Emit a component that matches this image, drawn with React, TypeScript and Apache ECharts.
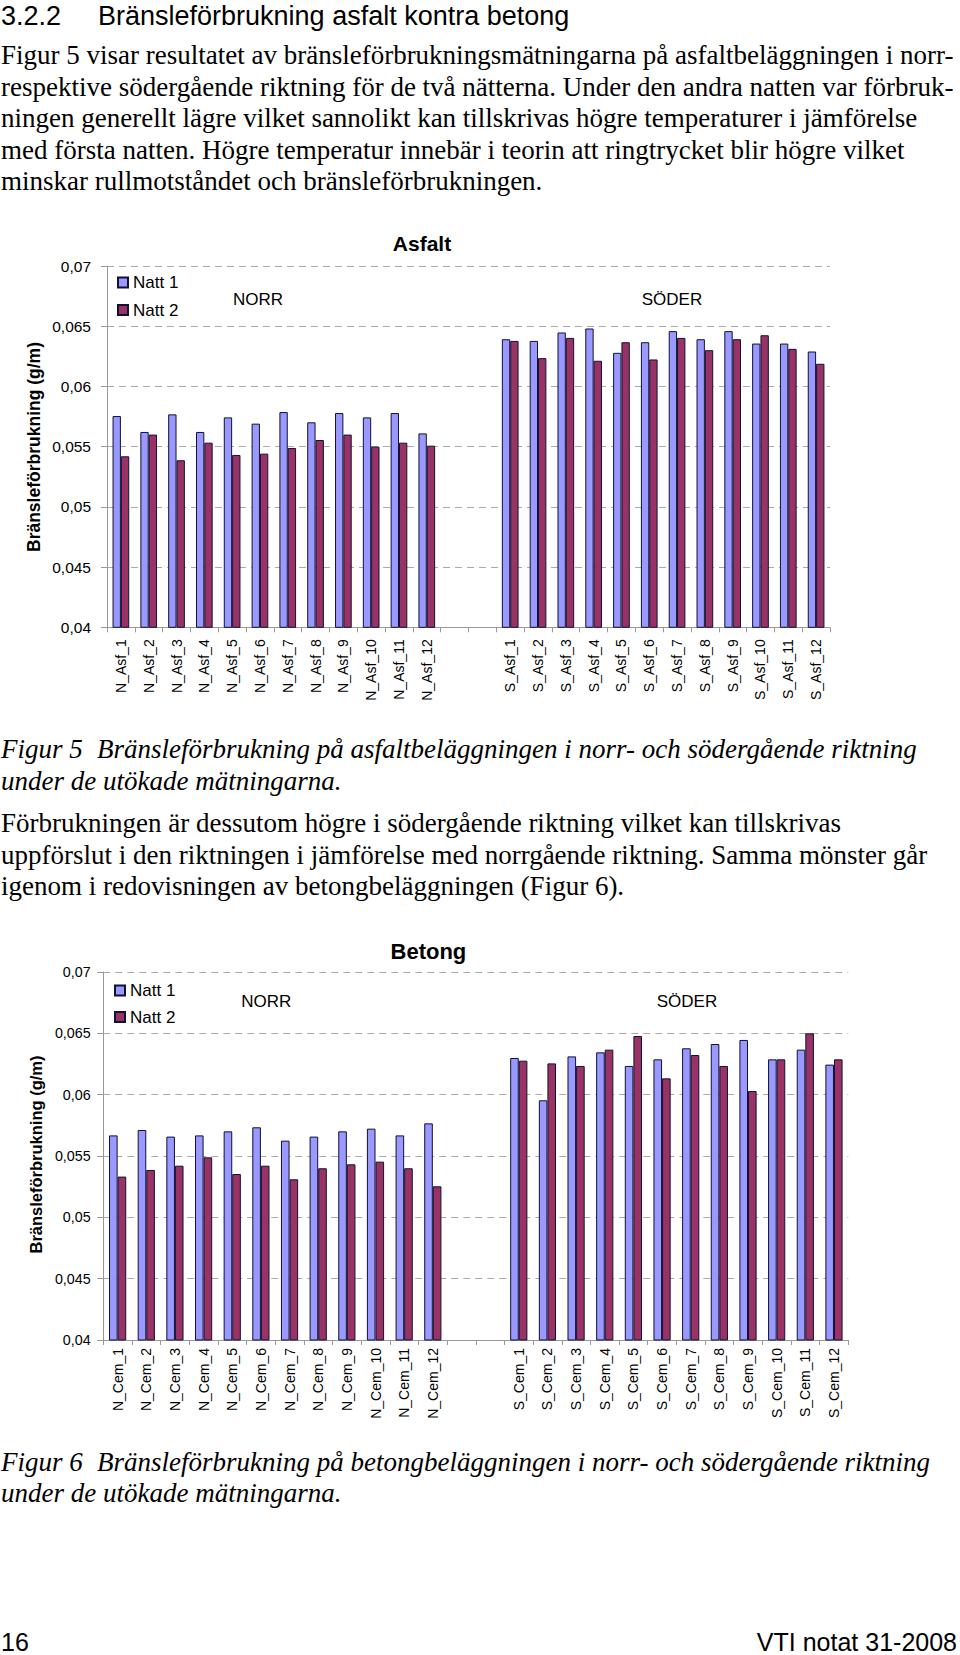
import React, { useEffect, useRef } from 'react';
import * as echarts from 'echarts';

// ---------- data ----------
const nAsfCategories = ['N_Asf_1', 'N_Asf_2', 'N_Asf_3', 'N_Asf_4', 'N_Asf_5', 'N_Asf_6', 'N_Asf_7', 'N_Asf_8', 'N_Asf_9', 'N_Asf_10', 'N_Asf_11', 'N_Asf_12'];
const sAsfCategories = ['S_Asf_1', 'S_Asf_2', 'S_Asf_3', 'S_Asf_4', 'S_Asf_5', 'S_Asf_6', 'S_Asf_7', 'S_Asf_8', 'S_Asf_9', 'S_Asf_10', 'S_Asf_11', 'S_Asf_12'];
const nCemCategories = ['N_Cem_1', 'N_Cem_2', 'N_Cem_3', 'N_Cem_4', 'N_Cem_5', 'N_Cem_6', 'N_Cem_7', 'N_Cem_8', 'N_Cem_9', 'N_Cem_10', 'N_Cem_11', 'N_Cem_12'];
const sCemCategories = ['S_Cem_1', 'S_Cem_2', 'S_Cem_3', 'S_Cem_4', 'S_Cem_5', 'S_Cem_6', 'S_Cem_7', 'S_Cem_8', 'S_Cem_9', 'S_Cem_10', 'S_Cem_11', 'S_Cem_12'];
const gapCategories = [' ', '  '];

const asfNorrNatt1 = [0.05754, 0.05622, 0.05768, 0.05622, 0.05743, 0.05691, 0.05787, 0.05702, 0.05779, 0.05743, 0.05779, 0.0561];
const asfNorrNatt2 = [0.0542, 0.056, 0.05387, 0.05533, 0.05431, 0.05442, 0.05489, 0.05555, 0.056, 0.055, 0.05533, 0.05508];
const asfSoderNatt1 = [0.06392, 0.06378, 0.06448, 0.06481, 0.06279, 0.06367, 0.06459, 0.06392, 0.06459, 0.06356, 0.06356, 0.0629];
const asfSoderNatt2 = [0.06378, 0.06235, 0.06403, 0.06213, 0.06367, 0.06224, 0.06403, 0.06301, 0.06392, 0.06425, 0.06312, 0.06188];

const cemNorrNatt1 = [0.05668, 0.05712, 0.05658, 0.05668, 0.05701, 0.05734, 0.05625, 0.05658, 0.05701, 0.05723, 0.05668, 0.05766];
const cemNorrNatt2 = [0.05332, 0.05386, 0.05421, 0.05489, 0.05353, 0.05421, 0.0531, 0.054, 0.05432, 0.05454, 0.054, 0.05253];
const cemSoderNatt1 = [0.06299, 0.05954, 0.06312, 0.06345, 0.06234, 0.06288, 0.06378, 0.06413, 0.06446, 0.06288, 0.06367, 0.06245];
const cemSoderNatt2 = [0.06277, 0.06255, 0.06234, 0.06367, 0.06478, 0.06133, 0.06323, 0.06234, 0.0603, 0.06288, 0.065, 0.06288];

const yMin = 0.04;
const yMax = 0.07;
const yInterval = 0.005;

const seriesNames = ['Natt 1', 'Natt 2'];

// ---------- page text ----------
const headingNumber = '3.2.2';
const headingTitle = 'Bränsleförbrukning asfalt kontra betong';
const paragraph1 = [
  'Figur 5 visar resultatet av bränsleförbrukningsmätningarna på asfaltbeläggningen i norr-',
  'respektive södergående riktning för de två nätterna. Under den andra natten var förbruk-',
  'ningen generellt lägre vilket sannolikt kan tillskrivas högre temperaturer i jämförelse',
  'med första natten. Högre temperatur innebär i teorin att ringtrycket blir högre vilket',
  'minskar rullmotståndet och bränsleförbrukningen.',
];
const caption5 = ['Figur 5', 'Bränsleförbrukning på asfaltbeläggningen i norr- och södergående riktning', 'under de utökade mätningarna.'];
const paragraph2 = [
  'Förbrukningen är dessutom högre i södergående riktning vilket kan tillskrivas',
  'uppförslut i den riktningen i jämförelse med norrgående riktning. Samma mönster går',
  'igenom i redovisningen av betongbeläggningen (Figur 6).',
];
const caption6 = ['Figur 6', 'Bränsleförbrukning på betongbeläggningen i norr- och södergående riktning', 'under de utökade mätningarna.'];
const chart1Title = 'Asfalt';
const chart2Title = 'Betong';
const yAxisTitle = 'Bränsleförbrukning (g/m)';
const norrLabel = 'NORR';
const soderLabel = 'SÖDER';
const footerLeft = '16';
const footerRight = 'VTI notat 31-2008';

const SANS = '"Liberation Sans", Arial, sans-serif';
const SERIF = '"Liberation Serif", "Times New Roman", serif';
const COLOR1 = '#9999FF';
const COLOR2 = '#993366';

function txt(x: number, y: number, text: string, opts: any = {}) {
  return {
    type: 'text',
    x,
    y,
    rotation: opts.rotation || 0,
    silent: true,
    style: {
      text,
      fill: '#000',
      fontSize: opts.fontSize || 27,
      fontFamily: opts.fontFamily || SERIF,
      fontWeight: opts.fontWeight || 'normal',
      fontStyle: opts.fontStyle || 'normal',
      align: opts.align || 'left',
      verticalAlign: 'middle',
      textAlign: opts.align || 'left',
      textVerticalAlign: 'middle',
    },
  };
}

function yLabel(v: number) {
  return String(Number(v.toFixed(3))).replace('.', ',');
}

export default function App() {
  const ref = useRef<HTMLDivElement>(null);

  useEffect(() => {
    if (!ref.current) return;
    const chart = echarts.init(ref.current, null, { renderer: 'svg' });

    const cats1 = [...nAsfCategories, ...gapCategories, ...sAsfCategories];
    const cats2 = [...nCemCategories, ...gapCategories, ...sCemCategories];
    const gapData = gapCategories.map(() => '-');
    const d1a = [...asfNorrNatt1, ...gapData, ...asfSoderNatt1];
    const d1b = [...asfNorrNatt2, ...gapData, ...asfSoderNatt2];
    const d2a = [...cemNorrNatt1, ...gapData, ...cemSoderNatt1];
    const d2b = [...cemNorrNatt2, ...gapData, ...cemSoderNatt2];

    const xAxis = (gridIndex: number, data: string[], margin: number) => ({
      type: 'category',
      gridIndex,
      data,
      axisLine: { show: true, lineStyle: { color: '#999', width: 1 } },
      axisTick: { show: true, length: 5, lineStyle: { color: '#999' } },
      axisLabel: {
        interval: 0,
        rotate: 90,
        fontSize: 14,
        fontFamily: SANS,
        color: '#000',
        margin,
      },
      splitLine: { show: false },
    });

    const yAxis = (gridIndex: number, fontSize: number, margin: number) => ({
      type: 'value',
      gridIndex,
      min: yMin,
      max: yMax,
      interval: yInterval,
      axisLine: { show: true, lineStyle: { color: '#999', width: 1 } },
      axisTick: { show: true, length: 6, lineStyle: { color: '#999' } },
      splitLine: { show: true, lineStyle: { type: [7, 5], color: '#aaa', width: 1 } },
      axisLabel: {
        formatter: yLabel,
        fontSize,
        fontFamily: SANS,
        color: '#000',
        margin,
      },
    });

    const bar = (name: string, idx: number, data: any[], color: string) => ({
      name,
      type: 'bar',
      xAxisIndex: idx,
      yAxisIndex: idx,
      data,
      barGap: '0%',
      barCategoryGap: '40%',
      itemStyle: { color, borderColor: '#111133', borderWidth: 1 },
    });

    const legend = (left: number, top: number, itemGap: number) => ({
      data: seriesNames,
      orient: 'vertical',
      left,
      top,
      padding: 0,
      itemGap,
      itemWidth: 10,
      itemHeight: 10,
      icon: 'rect',
      selectedMode: false,
      textStyle: { fontSize: 17, fontFamily: SANS, color: '#000' },
    });

    const graphics: any[] = [];
    // heading
    graphics.push(txt(1, 15.5, headingNumber, { fontFamily: SANS, fontSize: 27 }));
    graphics.push(txt(98, 15.5, headingTitle, { fontFamily: SANS, fontSize: 27 }));
    // paragraph 1
    const p1y = [55, 86.5, 118, 149.8, 181.4];
    paragraph1.forEach((l, i) => graphics.push(txt(1, p1y[i], l)));
    // chart 1 texts
    graphics.push(txt(422, 243.5, chart1Title, { fontFamily: SANS, fontWeight: 'bold', fontSize: 21, align: 'center' }));
    graphics.push(txt(258, 299.5, norrLabel, { fontFamily: SANS, fontSize: 17, align: 'center' }));
    graphics.push(txt(672, 299.5, soderLabel, { fontFamily: SANS, fontSize: 17, align: 'center' }));
    graphics.push(txt(34, 447, yAxisTitle, { fontFamily: SANS, fontWeight: 'bold', fontSize: 17.5, align: 'center', rotation: Math.PI / 2 }));
    // caption 5
    graphics.push(txt(1, 749, caption5[0], { fontStyle: 'italic' }));
    graphics.push(txt(97, 749, caption5[1], { fontStyle: 'italic' }));
    graphics.push(txt(1, 780.6, caption5[2], { fontStyle: 'italic' }));
    // paragraph 2
    const p2y = [822.8, 854.5, 886.1];
    paragraph2.forEach((l, i) => graphics.push(txt(1, p2y[i], l)));
    // chart 2 texts
    graphics.push(txt(428.4, 951.5, chart2Title, { fontFamily: SANS, fontWeight: 'bold', fontSize: 22, align: 'center' }));
    graphics.push(txt(266.3, 1001.5, norrLabel, { fontFamily: SANS, fontSize: 17, align: 'center' }));
    graphics.push(txt(687, 1001.5, soderLabel, { fontFamily: SANS, fontSize: 17, align: 'center' }));
    graphics.push(txt(36.4, 1154.5, yAxisTitle, { fontFamily: SANS, fontWeight: 'bold', fontSize: 16.5, align: 'center', rotation: Math.PI / 2 }));
    // caption 6
    graphics.push(txt(1, 1462, caption6[0], { fontStyle: 'italic' }));
    graphics.push(txt(97, 1462, caption6[1], { fontStyle: 'italic' }));
    graphics.push(txt(1, 1492.7, caption6[2], { fontStyle: 'italic' }));
    // footer
    graphics.push(txt(1, 1641.5, footerLeft, { fontFamily: SANS, fontSize: 25 }));
    graphics.push(txt(957, 1641.5, footerRight, { fontFamily: SANS, fontSize: 25, align: 'right' }));

    chart.setOption({
      animation: false,
      backgroundColor: '#fff',
      textStyle: { fontFamily: SANS },
      grid: [
        { left: 107, top: 266, width: 723, height: 361.3, containLabel: false },
        { left: 103.3, top: 972, width: 745, height: 368, containLabel: false },
      ],
      xAxis: [xAxis(0, cats1, 12), xAxis(1, cats2, 8)],
      yAxis: [yAxis(0, 15.5, 16), yAxis(1, 14.3, 12.6)],
      legend: [legend(117, 274, 10.5), legend(114, 982, 9.5)],
      series: [
        bar(seriesNames[0], 0, d1a, COLOR1),
        bar(seriesNames[1], 0, d1b, COLOR2),
        bar(seriesNames[0], 1, d2a, COLOR1),
        bar(seriesNames[1], 1, d2b, COLOR2),
      ],
      graphic: { elements: graphics },
    });

    return () => {
      chart.dispose();
    };
  }, []);

  return (
    <div
      ref={ref}
      style={{ position: 'absolute', left: 0, top: 0, width: 960, height: 1655, background: '#fff' }}
    />
  );
}
